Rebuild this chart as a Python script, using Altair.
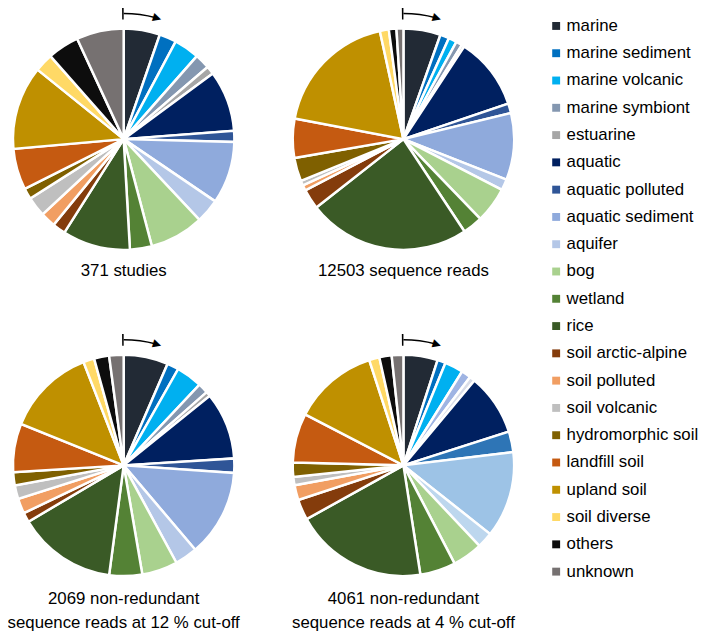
import altair as alt
import pandas as pd

categories = [
    "marine", "marine sediment", "marine volcanic", "marine symbiont", "estuarine",
    "aquatic", "aquatic polluted", "aquatic sediment", "aquifer", "bog", "wetland",
    "rice", "soil arctic-alpine", "soil polluted", "soil volcanic", "hydromorphic soil",
    "landfill soil", "upland soil", "soil diverse", "others", "unknown",
]
colors = [
    "#222a35", "#0070c0", "#00b0f0", "#8497b0", "#a6a6a6",
    "#002060", "#2f5597", "#8faadc", "#b4c7e7", "#a9d18e", "#548235",
    "#3a5a26", "#843c0c", "#f19e62", "#bfbfbf", "#7f6000",
    "#c55a11", "#bf9000", "#ffd966", "#0d0d0d", "#767171",
]
# shades used in the 4 % cut-off pie of the original figure
variant_colors = {
    "marine symbiont": "#9fb4e3",
    "estuarine": "#d9dde8",
    "aquatic polluted": "#2e75b6",
    "aquatic sediment": "#9dc3e6",
    "aquifer": "#bdd7ee",
}

# shares (%), clockwise from 12 o'clock
studies = [5.3, 2.5, 3.7, 2.2, 1.2, 8.9, 1.6, 9.1, 3.5, 7.9, 3.2, 9.9, 1.9, 2.2, 2.9, 1.6, 6.0, 12.2, 2.7, 4.6, 6.9]
reads = [5.4, 1.3, 1.2, 0.9, 0.4, 10.5, 1.4, 9.7, 1.6, 5.2, 2.9, 23.6, 2.9, 0.8, 0.7, 3.4, 5.7, 18.5, 1.3, 1.1, 1.0]
cut12 = [6.5, 1.7, 3.8, 1.5, 0.7, 9.8, 2.1, 12.7, 3.3, 5.2, 4.8, 14.4, 1.4, 2.2, 2.0, 1.9, 7.1, 13.0, 1.6, 2.2, 2.1]
cut4 = [5.0, 1.2, 2.7, 1.4, 0.8, 9.0, 3.0, 12.6, 2.3, 4.4, 5.2, 19.4, 3.0, 2.2, 1.2, 2.1, 7.2, 12.4, 1.5, 1.8, 1.7]

titles = [
    ["371 studies"],
    ["12503 sequence reads"],
    ["2069 non-redundant", "sequence reads at 12 % cut-off"],
    ["4061 non-redundant", "sequence reads at 4 % cut-off"],
]

SUFFIX = " (4 %)"
domain = categories + [c + SUFFIX for c in variant_colors]
rng = colors + list(variant_colors.values())
color_scale = alt.Scale(domain=domain, range=rng)
legend = alt.Legend(
    title=None, orient="none", legendX=546, legendY=6, values=categories,
    symbolType="square", symbolSize=64, symbolStrokeWidth=0,
    labelFontSize=17, labelFont="Liberation Sans", labelColor="black",
    rowPadding=9.6, labelOffset=2, padding=0, labelLimit=200,
)

R = 112
centers = [(117, 129), (400, 129), (117, 459), (400, 459)]
title_y = [[262], [262], [594, 619], [594, 619]]


def pie_layers(values, cx, cy, variant):
    keys = [c + SUFFIX if (variant and c in variant_colors) else c for c in categories]
    df = pd.DataFrame({"category": categories, "key": keys, "value": values,
                       "idx": list(range(len(categories)))})
    arcs = alt.Chart(df).mark_arc(outerRadius=R, stroke="white", strokeWidth=2.5).encode(
        theta=alt.Theta("value:Q", stack=True),
        color=alt.Color("key:N", scale=color_scale, legend=legend),
        order=alt.Order("idx:Q"),
        x=alt.value(cx), y=alt.value(cy),
    )
    one = alt.Chart(pd.DataFrame({"a": [0]}))
    curve = one.mark_arc(innerRadius=126.2, outerRadius=127.8, theta=0, theta2=0.26, color="black").encode(
        x=alt.value(cx), y=alt.value(cy))
    tick = one.mark_arc(innerRadius=121, outerRadius=133, theta=6.271, theta2=6.2832, color="black").encode(
        x=alt.value(cx), y=alt.value(cy))
    head = one.mark_text(text="\u25B6", fontSize=11, angle=17, align="center", baseline="middle",
                         color="black", font="DejaVu Sans").encode(
        x=alt.value(cx), y=alt.value(cy), theta=alt.value(0.27), radius=alt.value(127))
    return [arcs, curve, tick, head]


def title_layers(lines, cx, ys):
    out = []
    for line, y in zip(lines, ys):
        out.append(alt.Chart(pd.DataFrame({"t": [line]})).mark_text(
            fontSize=17, font="Liberation Sans", color="black", align="center", baseline="middle"
        ).encode(text="t:N", x=alt.value(cx), y=alt.value(y)))
    return out


layers = []
for vals, (cx, cy), lines, ys, var in zip([studies, reads, cut12, cut4], centers, titles, title_y,
                                          [False, False, False, True]):
    layers += pie_layers(vals, cx, cy, var)
    layers += title_layers(lines, cx, ys)

chart = alt.layer(*layers).resolve_scale(theta="independent").properties(
    width=700, height=631, padding=0, autosize=alt.AutoSizeParams(type="none")
).configure_view(stroke=None)

chart.save("out.html", embed_options={"renderer": "svg", "actions": False})
